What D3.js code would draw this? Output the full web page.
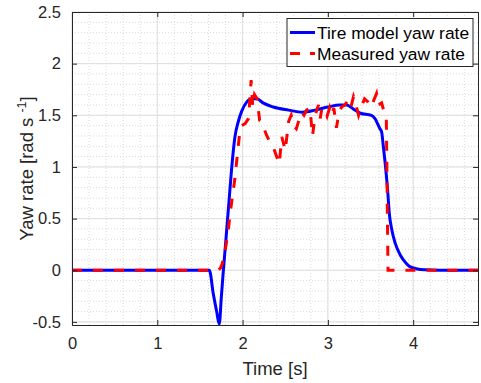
<!DOCTYPE html>
<html>
<head>
<meta charset="utf-8">
<script src="https://cdn.jsdelivr.net/npm/d3@7"></script>
<style>
  body { margin: 0; background: #fff; }
  svg { font-family: "Liberation Sans", Arial, sans-serif; }
</style>
</head>
<body>
<div id="chart"></div>
<script>
// tire model yaw rate (blue)
const tModel = [0, 1.61, 1.657, 1.696, 1.727, 1.75, 1.77, 1.80, 1.84, 1.87, 1.91, 1.95, 1.99, 2.05, 2.11, 2.17, 2.24, 2.36, 2.54, 2.70, 2.85, 3.0, 3.14, 3.22, 3.30, 3.38, 3.51, 3.55, 3.61, 3.63, 3.65, 3.67, 3.70, 3.72, 3.75, 3.79, 3.85, 3.92, 3.96, 4.05, 4.15, 4.3, 4.76];
const vModel = [0, 0, -0.23, -0.40, -0.52, -0.27, -0.05, 0.25, 0.66, 0.97, 1.29, 1.44, 1.54, 1.63, 1.66, 1.66, 1.62, 1.58, 1.55, 1.53, 1.55, 1.58, 1.60, 1.60, 1.56, 1.52, 1.50, 1.47, 1.37, 1.34, 1.20, 1.05, 0.78, 0.55, 0.39, 0.26, 0.145, 0.065, 0.035, 0.012, 0.004, 0, 0];

// measured yaw rate (red dashed)
const tMeas = [0, 1.715, 1.74, 1.76, 1.79, 1.83, 1.85, 1.88, 1.91, 1.94, 1.97, 1.99, 2.03, 2.07, 2.10, 2.12, 2.14, 2.17, 2.20, 2.22, 2.28, 2.32, 2.36, 2.40, 2.43, 2.46, 2.50, 2.54, 2.57, 2.60, 2.63, 2.66, 2.69, 2.72, 2.75, 2.79, 2.82, 2.85, 2.89, 2.91, 2.93, 2.97, 2.99, 3.02, 3.04, 3.07, 3.10, 3.13, 3.16, 3.20, 3.24, 3.27, 3.30, 3.32, 3.36, 3.40, 3.43, 3.47, 3.51, 3.54, 3.57, 3.59, 3.63, 3.67, 3.685, 3.705, 4.76];
const vMeas = [0, 0, 0.02, 0.06, 0.16, 0.37, 0.52, 0.71, 0.89, 1.13, 1.36, 1.40, 1.42, 1.47, 1.84, 1.58, 1.70, 1.66, 1.45, 1.44, 1.31, 1.24, 1.19, 1.10, 1.03, 1.29, 1.16, 1.44, 1.50, 1.40, 1.37, 1.45, 1.53, 1.50, 1.55, 1.57, 1.30, 1.50, 1.60, 1.47, 1.57, 1.53, 1.49, 1.57, 1.50, 1.57, 1.38, 1.52, 1.58, 1.60, 1.65, 1.58, 1.68, 1.63, 1.50, 1.60, 1.66, 1.63, 1.58, 1.65, 1.71, 1.60, 1.62, 1.50, 1.48, 0, 0];

const xTicks = [0, 1, 2, 3, 4];
const yTicks = [-0.5, 0, 0.5, 1, 1.5, 2, 2.5];
const legendLabels = ["Tire model yaw rate", "Measured yaw rate"];

const W = 481, H = 383;
const m = { left: 72, right: 3, top: 12, bottom: 58 };
const pw = W - m.left - m.right, ph = H - m.top - m.bottom;

const svg = d3.select('#chart').append('svg')
    .attr('width', W)
    .attr('height', H);

const x = d3.scaleLinear().domain([0, 4.76]).range([m.left, m.left + pw]);
const y = d3.scaleLinear().domain([-0.53, 2.5]).range([m.top + ph, m.top]);

// minor grid
const xMinor = d3.range(0, 4.76, 0.2);
const yMinor = d3.range(-0.5, 2.51, 0.1);
svg.append('g').selectAll('line').data(xMinor).enter().append('line')
    .attr('x1', d => x(d)).attr('x2', d => x(d))
    .attr('y1', m.top).attr('y2', m.top + ph)
    .attr('stroke', '#dcdcdc').attr('stroke-dasharray', '1,2');
svg.append('g').selectAll('line').data(yMinor).enter().append('line')
    .attr('x1', m.left).attr('x2', m.left + pw)
    .attr('y1', d => y(d)).attr('y2', d => y(d))
    .attr('stroke', '#dcdcdc').attr('stroke-dasharray', '1,2');

// major grid
svg.append('g').selectAll('line').data(xTicks).enter().append('line')
    .attr('x1', d => x(d)).attr('x2', d => x(d))
    .attr('y1', m.top).attr('y2', m.top + ph)
    .attr('stroke', '#dedede');
svg.append('g').selectAll('line').data(yTicks).enter().append('line')
    .attr('x1', m.left).attr('x2', m.left + pw)
    .attr('y1', d => y(d)).attr('y2', d => y(d))
    .attr('stroke', '#dedede');

// lines
svg.append('clipPath').attr('id', 'clip').append('rect')
    .attr('x', m.left).attr('y', m.top).attr('width', pw).attr('height', ph);

const smooth = d3.line().x(d => x(d[0])).y(d => y(d[1])).curve(d3.curveMonotoneX);
const line = d3.line().x(d => x(d[0])).y(d => y(d[1]));
svg.append('path')
    .datum(d3.zip(tModel, vModel))
    .attr('clip-path', 'url(#clip)')
    .attr('d', smooth)
    .attr('fill', 'none').attr('stroke', '#0000ff').attr('stroke-width', 3)
    .attr('stroke-linejoin', 'round');
svg.append('path')
    .datum(d3.zip(tMeas, vMeas))
    .attr('clip-path', 'url(#clip)')
    .attr('d', line)
    .attr('fill', 'none').attr('stroke', '#ff0000').attr('stroke-width', 3)
    .attr('stroke-dasharray', '10,11');

// axes (ticks inward, box on)
const axisColor = '#262626';
svg.append('g').attr('transform', `translate(0,${m.top + ph})`)
    .call(d3.axisBottom(x).tickValues(xTicks).tickSize(-5).tickPadding(12).tickFormat(d3.format('d')));
svg.append('g').attr('transform', `translate(0,${m.top})`)
    .call(d3.axisTop(x).tickValues(xTicks).tickSize(-5).tickFormat(''));
svg.append('g').attr('transform', `translate(${m.left},0)`)
    .call(d3.axisLeft(y).tickValues(yTicks).tickSize(-5).tickPadding(11).tickFormat(d => d));
svg.append('g').attr('transform', `translate(${m.left + pw},0)`)
    .call(d3.axisRight(y).tickValues(yTicks).tickSize(-5).tickFormat(''));

svg.selectAll('.domain').attr('stroke', axisColor);
svg.selectAll('.tick line').attr('stroke', axisColor);
svg.selectAll('.tick text').attr('fill', axisColor).style('font-size', '16.5px')
    .style('font-family', '"Liberation Sans", Arial, sans-serif');

// axis labels
svg.append('text')
    .attr('x', m.left + pw / 2).attr('y', 375)
    .attr('text-anchor', 'middle').attr('fill', axisColor).style('font-size', '18.5px')
    .text('Time [s]');
const yl = svg.append('text')
    .attr('transform', `translate(33,${m.top + ph / 2}) rotate(-90)`)
    .attr('text-anchor', 'middle').attr('fill', axisColor).style('font-size', '18.5px');
yl.append('tspan').text('Yaw rate [rad s ');
yl.append('tspan').attr('dy', -7).style('font-size', '12.5px').text('-1');
yl.append('tspan').attr('dy', 7).text(']');

// legend
const lg = svg.append('g').attr('transform', 'translate(287,18.5)');
lg.append('rect').attr('width', 186).attr('height', 48)
    .attr('fill', '#fff').attr('stroke', axisColor).attr('stroke-width', 1);
const colors = ['#0000ff', '#ff0000'];
legendLabels.forEach((lab, i) => {
    const cy = 14 + i * 21;
    lg.append('line').attr('x1', 3).attr('x2', 28).attr('y1', cy).attr('y2', cy)
        .attr('stroke', colors[i]).attr('stroke-width', 3)
        .attr('stroke-dasharray', i === 1 ? '10,10' : null);
    lg.append('text').attr('x', 30).attr('y', cy + 6)
        .attr('fill', '#000').style('font-size', '17.4px').text(lab);
});
</script>
</body>
</html>
